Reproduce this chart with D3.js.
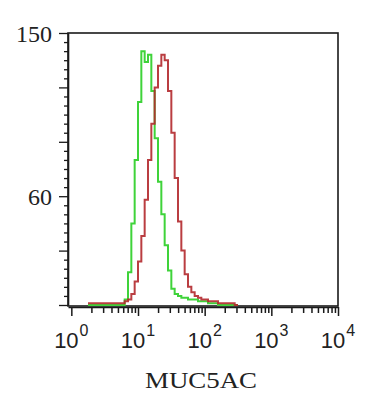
<!DOCTYPE html>
<html><head><meta charset="utf-8">
<script src="https://cdn.jsdelivr.net/npm/d3@7"></script>
<style>html,body{margin:0;padding:0;background:#fff}</style>
</head><body>
<svg id="c" width="370" height="400"></svg>
<script>
// ---- data (log10 fluorescence bin starts, bin width 0.05 decade) ----
const binStarts = [0.25,0.30,0.35,0.40,0.45,0.50,0.55,0.60,0.65,0.70,0.75,0.80,0.85,0.90,0.95,1.00,1.05,1.10,1.15,1.20,1.25,1.30,1.35,1.40,1.45,1.50,1.55,1.60,1.65,1.70,1.75,1.80,1.85,1.90,1.95,2.00,2.05,2.10,2.15,2.20,2.25,2.30,2.35,2.40,2.45];
const binWidth = 0.05;
const greenCounts = [0,0,0,0,0,0,0,0,0,0,0,3,18,45,80,112,140,134,138,118,92,68,50,33,19,9,6,5,4,4,3,3,3,2,2,2,1,1,1,0,0,0,0,0,0];
const redCounts   = [1,1,1,1,1,1,1,1,1,1,1,2,3,6,13,24,38,58,80,100,120,132,138,135,118,95,70,46,30,17,10,7,5,4,3,3,2,2,2,1,1,1,1,1,0];
const yMajorTicks = [0,30,60,90,120,150];
const yLabelTicks = [150,60];
const yMinorStep = 5;
const xDecades = [0,1,2,3,4];
const xTitle = "MUC5AC";

(function(){
const svg = d3.select("#c");
const pL = 68, pR = 338, pT = 33, pB = 306;
const x = d3.scaleLog().domain([Math.pow(10,-0.05), 1e4]).range([pL, pR]);
const y = d3.scaleLinear().domain([0,150]).range([305, pT]);

// frame
svg.append("rect").attr("x", pL).attr("y", pT).attr("width", pR-pL).attr("height", pB-pT)
  .attr("fill","none").attr("stroke","#1a1a1a").attr("stroke-width",1.6);

// histograms
function stepPoints(counts){
  const pts = counts.map((c,i)=>[Math.pow(10, binStarts[i]), c]);
  const last = binStarts.length-1;
  pts.push([Math.pow(10, binStarts[last]+binWidth), counts[last]]);
  return pts;
}
const line = d3.line().x(d=>x(d[0])).y(d=>y(d[1])).curve(d3.curveStepAfter);
svg.append("path").datum(stepPoints(greenCounts)).attr("d", line)
  .attr("fill","none").attr("stroke","#3fd33a").attr("stroke-width",2);
svg.append("path").datum(stepPoints(redCounts)).attr("d", line)
  .attr("fill","none").attr("stroke","#b3282c").attr("stroke-width",2).attr("opacity",0.9);

// y axis
const yTicksAll = d3.range(0, 150 + 0.001, yMinorStep);
const yAxis = svg.append("g").attr("transform", `translate(${pL},0)`)
  .call(d3.axisLeft(y).tickValues(yTicksAll).tickFormat("").tickSize(4).tickSizeOuter(0));
yAxis.select(".domain").attr("stroke","#1a1a1a").attr("stroke-width",1.6);
yAxis.selectAll(".tick line").attr("stroke","#1a1a1a").attr("stroke-width",1.3)
  .attr("x2", d => yMajorTicks.includes(d) ? -9 : -4);
svg.append("g").selectAll("text").data(yLabelTicks).join("text")
  .attr("x", 52).attr("y", d => y(d) + 9)
  .attr("text-anchor","end")
  .attr("font-family","'Liberation Serif','Times New Roman',serif")
  .attr("font-size",24).attr("fill","#222")
  .text(d => d);

// x axis
const xTicksAll = [];
xDecades.forEach(e => { if (e < 4) { for (let m=1;m<10;m++) xTicksAll.push(m*Math.pow(10,e)); } else xTicksAll.push(1e4); });
const xAxis = svg.append("g").attr("transform", `translate(0,${pB+1})`)
  .call(d3.axisBottom(x).tickValues(xTicksAll).tickFormat("").tickSize(5).tickSizeOuter(0));
xAxis.select(".domain").attr("stroke","#1a1a1a").attr("stroke-width",1.6);
xAxis.selectAll(".tick line").attr("stroke","#1a1a1a").attr("stroke-width",1.5)
  .attr("y2", d => xDecades.some(e => Math.abs(Math.log10(d)-e) < 1e-9) ? 9 : 6);

const xl = svg.append("g").selectAll("text").data(xDecades).join("text")
  .attr("x", d => x(Math.pow(10,d)))
  .attr("y", 348)
  .attr("text-anchor","middle")
  .attr("font-family","'Liberation Sans',Arial,sans-serif")
  .attr("font-size",22).attr("fill","#222");
xl.append("tspan").text("10");
xl.append("tspan").attr("dy",-12).attr("font-size",16).attr("dx",1).text(d => d);

// x title
svg.append("text").attr("x", 201).attr("y", 388)
  .attr("text-anchor","middle")
  .attr("font-family","'Liberation Serif','Times New Roman',serif")
  .attr("font-size",23).attr("fill","#222")
  .attr("textLength",112).attr("lengthAdjust","spacingAndGlyphs")
  .text(xTitle);
})();
</script>
</body></html>
